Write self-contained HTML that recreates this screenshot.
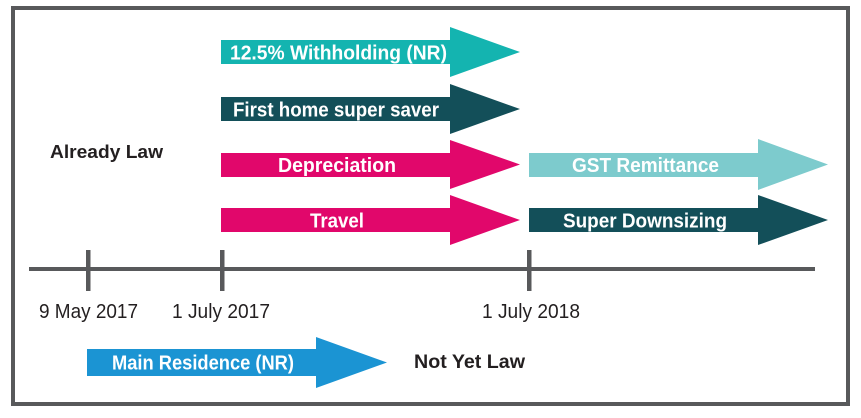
<!DOCTYPE html>
<html>
<head>
<meta charset="utf-8">
<style>
  html, body { margin: 0; padding: 0; background: #ffffff; }
  svg { display: block; }
  text { font-family: "Liberation Sans", Arial, sans-serif; }
  .lbl { fill: #ffffff; font-weight: bold; font-size: 20px; }
  .date { fill: #231f20; font-size: 20px; }
  .blk { fill: #231f20; font-weight: bold; }
</style>
</head>
<body>
<svg width="861" height="418" viewBox="0 0 861 418" xmlns="http://www.w3.org/2000/svg">
  <rect x="0" y="0" width="861" height="418" fill="#ffffff"/>
  <!-- frame -->
  <rect x="13" y="8" width="835" height="396" fill="none" stroke="#58595b" stroke-width="4"/>

  <!-- timeline -->
  <rect x="29" y="267" width="786" height="4" fill="#58595b"/>
  <rect x="86" y="250" width="4.5" height="41" fill="#58595b"/>
  <rect x="220" y="250" width="4.5" height="41" fill="#58595b"/>
  <rect x="527" y="250" width="4.5" height="41" fill="#58595b"/>

  <!-- arrows -->
  <polygon points="221,40 450,40 450,27 520,52 450,77 450,64 221,64" fill="#14b4b0"/>
  <polygon points="221,97 450,97 450,84 520,109 450,134 450,121 221,121" fill="#134f59"/>
  <polygon points="221,153 450,153 450,140 520,164.5 450,189 450,177 221,177" fill="#e1076b"/>
  <polygon points="221,208 450,208 450,195 520,220 450,245 450,232 221,232" fill="#e1076b"/>
  <polygon points="529,153 758,153 758,139 828,164.5 758,190 758,177 529,177" fill="#7dcbcd"/>
  <polygon points="529,208 758,208 758,195 828,220 758,245 758,232 529,232" fill="#134f59"/>
  <polygon points="87,349 316,349 316,337 387,362.5 316,388 316,376 87,376" fill="#1b94d3"/>

  <!-- arrow labels -->
  <text class="lbl" x="230" y="59.5" textLength="217" lengthAdjust="spacingAndGlyphs">12.5% Withholding (NR)</text>
  <text class="lbl" x="233" y="116.5" textLength="206" lengthAdjust="spacingAndGlyphs">First home super saver</text>
  <text class="lbl" x="278" y="172" textLength="118" lengthAdjust="spacingAndGlyphs">Depreciation</text>
  <text class="lbl" x="310" y="227.5" textLength="54" lengthAdjust="spacingAndGlyphs">Travel</text>
  <text class="lbl" x="572" y="172" textLength="147" lengthAdjust="spacingAndGlyphs">GST Remittance</text>
  <text class="lbl" x="563" y="227.5" textLength="164" lengthAdjust="spacingAndGlyphs">Super Downsizing</text>
  <text class="lbl" x="112" y="369.5" textLength="182" lengthAdjust="spacingAndGlyphs">Main Residence (NR)</text>

  <!-- other labels -->
  <text class="blk" x="50" y="158" font-size="18" textLength="113" lengthAdjust="spacingAndGlyphs">Already Law</text>
  <text class="blk" x="414" y="368" font-size="19" textLength="111" lengthAdjust="spacingAndGlyphs">Not Yet Law</text>

  <text class="date" x="39" y="318" textLength="99" lengthAdjust="spacingAndGlyphs">9 May 2017</text>
  <text class="date" x="172" y="318" textLength="98" lengthAdjust="spacingAndGlyphs">1 July 2017</text>
  <text class="date" x="482" y="318" textLength="98" lengthAdjust="spacingAndGlyphs">1 July 2018</text>
</svg>
</body>
</html>
